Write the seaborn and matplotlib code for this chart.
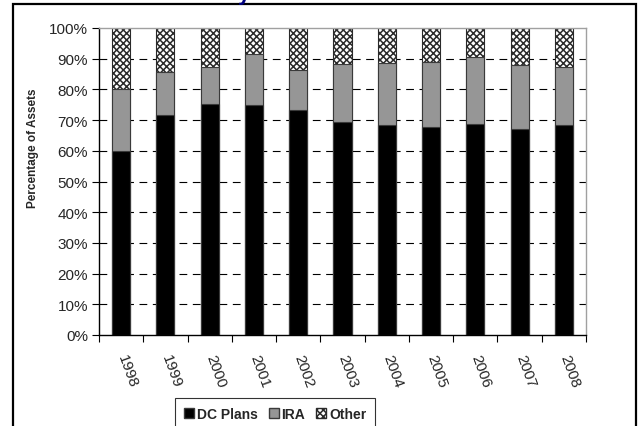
import matplotlib
matplotlib.use("Agg")
import matplotlib.pyplot as plt
import numpy as np
import pandas as pd
import seaborn as sns
from matplotlib.patches import Patch, Rectangle
from matplotlib.ticker import FixedLocator, PercentFormatter

# Share of assets by account type, per year (percent)
years = ["1998", "1999", "2000", "2001", "2002", "2003",
         "2004", "2005", "2006", "2007", "2008"]
dc_plans = [60.0, 71.7, 75.1, 75.0, 73.4, 69.3, 68.3, 67.6, 68.8, 67.2, 68.3]
ira = [20.0, 13.9, 12.2, 16.5, 13.0, 18.9, 20.2, 21.2, 21.8, 20.6, 19.1]
other = [20.0, 14.4, 12.7, 8.5, 13.6, 11.8, 11.5, 11.2, 9.4, 12.2, 12.6]
y_ticks = [0, 10, 20, 30, 40, 50, 60, 70, 80, 90, 100]

sns.set_style("white")
plt.rcParams["font.family"] = ["Liberation Sans", "DejaVu Sans"]
plt.rcParams["hatch.linewidth"] = 1.1

df = pd.DataFrame({"year": years, "DC Plans": dc_plans, "IRA": ira, "Other": other})
df["top_ira"] = df["DC Plans"] + df["IRA"]
df["top_other"] = df["top_ira"] + df["Other"]

fig = plt.figure(figsize=(6.38, 4.27), dpi=100)
ax = fig.add_axes([99 / 638, 91 / 427, 487 / 638, 307 / 427])

bar_w = 0.41
common = dict(x="year", errorbar=None, width=bar_w, saturation=1, ax=ax, linewidth=0.8)
# stacked layers, drawn back to front as cumulative totals
sns.barplot(data=df, y="top_other", color="white", edgecolor="#2a2a2a", **common)
n = len(years)
for p in ax.patches[:n]:
    p.set_hatch("xxxxx")
sns.barplot(data=df, y="top_ira", color="#969696", edgecolor="#3a3a3a", **common)
sns.barplot(data=df, y="DC Plans", color="black", edgecolor="#3a3a3a", **common)

ax.set_xlim(-0.5, n - 0.5)
ax.set_ylim(0, 100)
ax.yaxis.set_major_locator(FixedLocator(y_ticks))
ax.yaxis.set_major_formatter(PercentFormatter(decimals=0))
ax.set_axisbelow(True)
for v in y_ticks[1:-1]:
    ax.axhline(v, color="black", lw=0.8, linestyle=(0, (7, 5)), zorder=0)

for side in ("left", "bottom"):
    ax.spines[side].set_color("black")
    ax.spines[side].set_linewidth(1.0)
for side in ("top", "right"):
    ax.spines[side].set_color("#a0a0a0")
    ax.spines[side].set_linewidth(1.0)

ax.tick_params(axis="y", which="major", direction="out", length=5, width=0.8,
               color="black", labelsize=11, pad=3, left=True)
ax.set_xticks(np.arange(-0.5, n, 1.0), minor=True)
ax.tick_params(axis="x", which="minor", direction="out", length=5, width=0.8,
               color="black", bottom=True)
ax.tick_params(axis="x", which="major", length=0, labelsize=11, pad=14)
for lbl in ax.get_xticklabels():
    lbl.set_rotation(-70)
    lbl.set_ha("left")
    lbl.set_va("center")
    lbl.set_rotation_mode("anchor")

ax.set_xlabel("")
ax.set_ylabel("Percentage of Assets", fontsize=8.5, fontweight="bold")
ax.yaxis.set_label_coords(-0.123, 0.61)

handles = [
    Patch(facecolor="black", edgecolor="#3a3a3a", label="DC Plans"),
    Patch(facecolor="#969696", edgecolor="#3a3a3a", label="IRA"),
    Patch(facecolor="white", edgecolor="#2a2a2a", hatch="xxxxx", label="Other"),
]
leg = fig.legend(handles=handles, loc="upper center", ncol=3,
                 bbox_to_anchor=(275 / 638, 1 - 399 / 427),
                 frameon=True, fancybox=False, edgecolor="black",
                 prop={"weight": "bold", "size": 10},
                 handlelength=0.72, handleheight=0.72, handletextpad=0.2,
                 columnspacing=0.8, borderpad=0.65, borderaxespad=0)
leg.get_frame().set_linewidth(0.8)

# chart title, mostly above the visible area
fig.text(244 / 638, 1.0, "y", color="#000080", fontsize=16, fontweight="bold",
         ha="center", va="baseline")

# outer chart frame
fig.patches.append(Rectangle((12.5 / 638, -0.1), 623.5 / 638, 1.1 - 5 / 427,
                             transform=fig.transFigure, fill=False,
                             edgecolor="black", linewidth=1.6))

fig.savefig("out.png", dpi=100)
